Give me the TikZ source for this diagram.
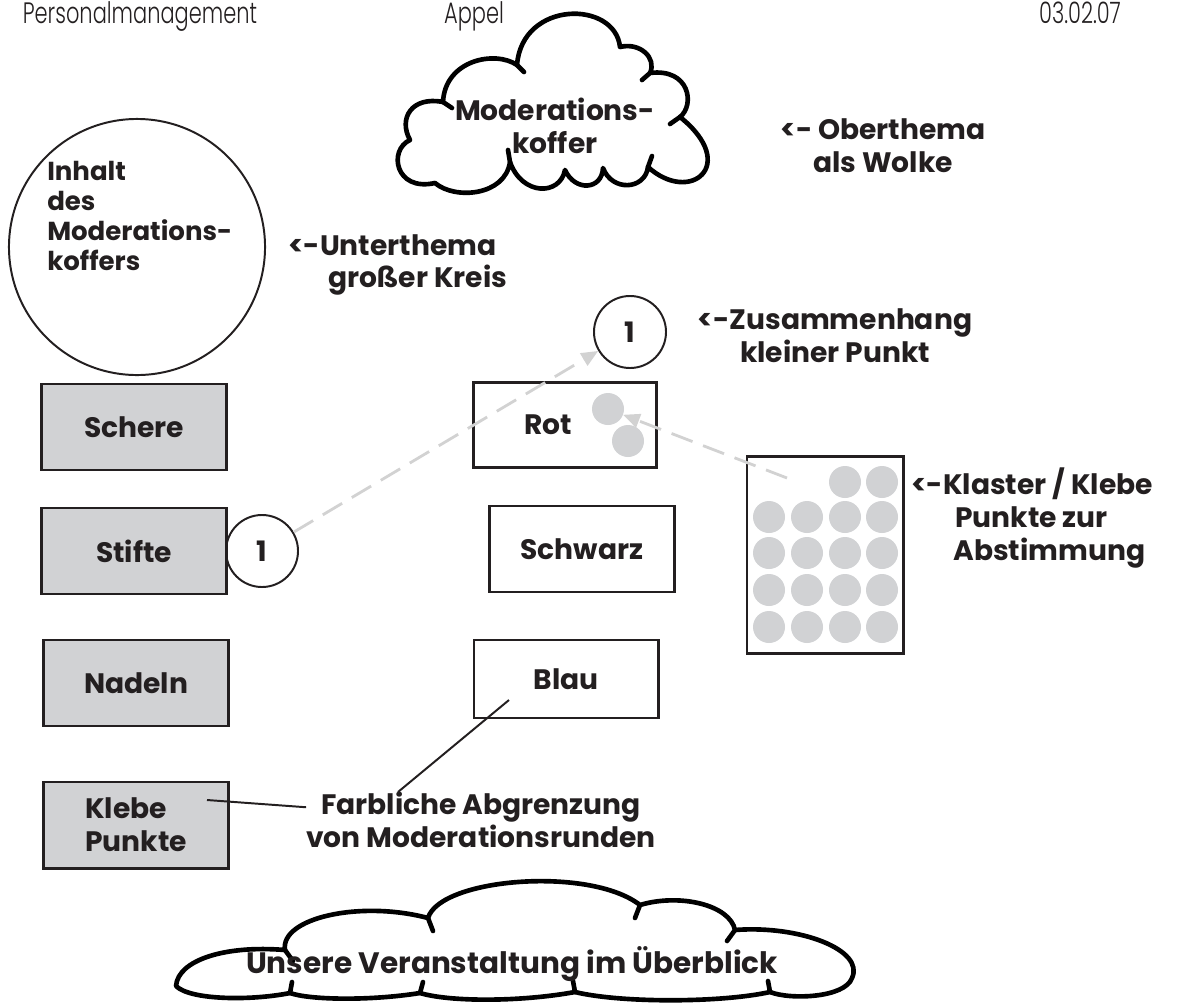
\documentclass[tikz,border=0pt]{standalone}
\usepackage{fontspec}
\setmainfont{Poppins}
\newfontfamily\kopffont{Poppins Light}[FakeStretch=0.71]
\usepackage{tikz}
\usetikzlibrary{arrows.meta}
\definecolor{schrift}{HTML}{231F20}
\definecolor{kastengrau}{HTML}{D1D2D4}
\definecolor{strichgrau}{HTML}{D2D2D2}
\tikzset{
txt/.style = {font=\bfseries\fontsize{20}{23.4}\selectfont, text=schrift, inner sep=0pt},
kopf/.style = {anchor=base, font=\kopffont\fontsize{21}{26}\selectfont, text=schrift, inner sep=0pt},
box/.style = {txt, rectangle, draw=schrift, line width=2.1pt, minimum width=#1, minimum height=2.15cm},
box/.default = 4.625cm, % width of the box
grauBox/.style = {box, fill=kastengrau},
kreis/.style = {txt, circle, draw=schrift, line width=1.4pt, minimum size=#1},
kreis/.default = 1.8cm, % diameter of the circle
dot/.style = {circle, fill=kastengrau, minimum size=#1,
              inner sep=0pt, outer sep=0pt},
dot/.default = 0.8cm, % size of the circle diameter
wolkenstrich/.style = {draw=black, line width=3.3pt, line cap=round, line join=round},
pfeil/.style = {draw=strichgrau, line width=2pt, dash pattern=on 16pt off 8pt,
                -{Triangle[length=12pt, width=10pt, fill=strichgrau]}},
linie/.style = {draw=schrift, line width=1.4pt}
}

\begin{document}
\begin{tikzpicture}[x=0.025cm, y=-0.025cm]
  \useasboundingbox (0,0) rectangle (1188,1006);

  % Kopfzeile
    \node[kopf] (kopfFach) at (140,23) {Personalmanagement};
    \node[kopf] (kopfName) at (474,23) {Appel};
    \node[kopf] (kopfDatum) at (1080,23) {03.02.07};

  % Wolke oben
    \draw[wolkenstrich] (443,102)
      .. controls (412,96) and (398,118) .. (410,140)
      .. controls (388,150) and (395,192) .. (435,183)
      .. controls (455,200) and (505,196) .. (510,162)
      .. controls (522,196) and (560,196) .. (565,170)
      .. controls (575,192) and (602,190) .. (603,168)
      .. controls (612,192) and (645,190) .. (648,167)
      .. controls (690,205) and (740,165) .. (680,117)
      .. controls (695,105) and (690,68) .. (650,73)
      .. controls (657,58) and (640,42) .. (620,47)
      .. controls (615,0) and (522,0) .. (517,65)
      .. controls (495,50) and (445,60) .. (443,102) -- cycle;
    \draw[wolkenstrich] (443,102) -- (452,108) (510,162) -- (508,150) (648,167) -- (652,156)
      (680,117) -- (670,124) (650,73) -- (642,80) (517,65) -- (524,72);
    \node[txt, align=center] (wolkeObenText) at (555,126) {Moderations-\\koffer};

  % Wolke unten
    \draw[wolkenstrich] (176,986)
      .. controls (178,960) and (225,945) .. (285,950)
      .. controls (280,918) and (360,900) .. (428,918)
      .. controls (440,878) and (590,866) .. (640,905)
      .. controls (680,893) and (730,905) .. (735,930)
      .. controls (800,925) and (865,950) .. (852,978)
      .. controls (845,998) and (790,1000) .. (770,992)
      .. controls (720,1003) and (620,1003) .. (575,992)
      .. controls (520,1002) and (450,1002) .. (420,993)
      .. controls (370,1001) and (310,1000) .. (290,993)
      .. controls (250,1001) and (190,1000) .. (176,986) -- cycle;
    \draw[wolkenstrich] (285,950) -- (293,961) (428,918) -- (433,931) (640,905) -- (635,918)
      (735,930) -- (727,941) (770,992) -- (768,981) (575,992) -- (573,981)
      (420,993) -- (423,982) (290,993) -- (292,982);
    \node[txt, font=\bfseries\fontsize{21}{25}\selectfont] (wolkeUntenText) at (512,964) {Unsere Veranstaltung im Überblick};

  % Kreise
    \node[kreis=6.4cm] (grossKreis) at (137,247) {};
    \node[txt, align=left, anchor=west, font=\bfseries\fontsize{18.5}{21.3}\selectfont] (grossKreisText) at (47,216) {Inhalt\\des\\Moderations-\\koffers};
    \node[kreis] (punktOben) at (630,332) {1};
    \node[kreis] (punktStifte) at (262,551) {1};

  % Erklaerungen
    \node[txt, align=center] (oberthema) at (883,146) {<- Oberthema\\als Wolke};
    \node[txt, align=left, anchor=west] (unterthema) at (288,265) {<-Unterthema\\\hspace*{1cm}großer Kreis};
    \node[txt, align=center] (zusammenhang) at (835,336) {<-Zusammenhang\\kleiner Punkt};
    \node[txt, align=left, anchor=west] (klasterText) at (911,518) {<-Klaster / Klebe\\\hspace*{1.1cm}Punkte zur\\\hspace*{1.05cm}Abstimmung};
    \node[txt, align=center] (farbText) at (481,820) {Farbliche Abgrenzung\\von Moderationsrunden};

  % Kaesten
    \node[grauBox] (schere) at (134,427) {Schere};
    \node[grauBox] (stifte) at (134,551) {Stifte};
    \node[grauBox] (nadeln) at (136,683) {Nadeln};
    \node[grauBox, align=left] (klebe) at (136,825) {Klebe\\Punkte};
    \node[box=4.575cm, minimum height=2.125cm] (rot) at (565,425) {};
    \node[txt] (rotText) at (548,425) {Rot};
    \node[box] (schwarz) at (582,549) {Schwarz};
    \node[box=4.6cm, minimum height=1.95cm] (blau) at (566,679) {Blau};
    \node[box=3.9cm, minimum height=4.925cm] (klaster) at (825,555) {};

  % Klebepunkte
    \node[dot] (rotPunktA) at (608,409) {};
    \node[dot] (rotPunktB) at (628,441) {};
    \foreach \x/\c in {845/3, 882/4}
      \node[dot] (kp-1-\c) at (\x,482) {};
    \foreach \y [count=\r from 2] in {517,553,590,627}
      \foreach \x [count=\c] in {769,807,845,882}
        \node[dot] (kp-\r-\c) at (\x,\y) {};

  % Linien
    \coordinate (klasterStart) at (787,478);
    \coordinate (blauPkt) at (509,700);
    \coordinate (klebePkt) at (207,800);
    \coordinate (farbOben) at (398,792);
    \draw[pfeil] (punktStifte) -- (punktOben);
    \draw[pfeil] (klasterStart) -- (rotPunktA);
    \draw[linie] (blauPkt) -- (farbOben);
    \draw[linie] (klebePkt) -- (farbText);
  \end{tikzpicture}
\end{document}
